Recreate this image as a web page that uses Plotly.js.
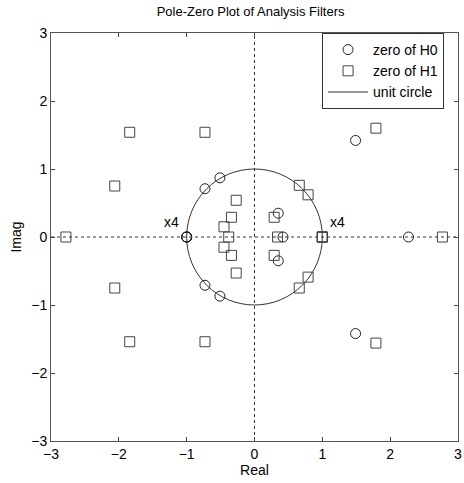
<!DOCTYPE html>
<html><head><meta charset="utf-8">
<script src="https://cdn.plot.ly/plotly-3.0.1.min.js"></script>
<style>body{margin:0;background:#fff}#c{width:464px;height:483px}</style>
</head><body><div id="c"></div>
<script>
// zeros of H0 (circles)
const h0Re = [-1, -1, -1, -1, -0.73, -0.73, -0.51, -0.51, 0.35, 0.35, 0.42, 2.27, 1.49, 1.49];
const h0Im = [0, 0, 0, 0, 0.71, -0.71, 0.87, -0.87, 0.35, -0.35, 0, 0, 1.42, -1.42];
// zeros of H1 (squares)
const h1Re = [-2.78, -1.84, -0.73, -2.06, -2.06, -1.84, -0.73,
              -0.27, -0.34, -0.45, -0.38, -0.45, -0.34, -0.27,
              0.29, 0.34, 0.29, 0.66, 0.79, 0.66, 0.79,
              1, 1, 1, 1, 2.77, 1.79, 1.79];
const h1Im = [0, 1.54, 1.54, 0.75, -0.75, -1.54, -1.54,
              0.54, 0.29, 0.15, 0, -0.15, -0.27, -0.53,
              0.29, 0, -0.27, 0.76, 0.62, -0.75, -0.59,
              0, 0, 0, 0, 0, 1.6, -1.56];
const tickVals = [-3, -2, -1, 0, 1, 2, 3];
const axisRange = [-3, 3];
const unitRadius = 1;
const multLabels = [{x: -1.23, y: 0.22, t: 'x4'}, {x: 1.23, y: 0.22, t: 'x4'}];

const font = {family: 'Liberation Sans, Arial, sans-serif', size: 14, color: '#000'};
const traces = [
  {x: h0Re, y: h0Im, mode: 'markers', type: 'scatter', name: 'zero of H0',
   marker: {symbol: 'circle-open', size: 10, color: '#222', line: {width: 1, color: '#222'}}},
  {x: h1Re, y: h1Im, mode: 'markers', type: 'scatter', name: 'zero of H1',
   marker: {symbol: 'square-open', size: 10, color: '#444', line: {width: 1, color: '#444'}}},
  {x: [null], y: [null], mode: 'lines', type: 'scatter', name: 'unit circle',
   line: {color: '#333', width: 1}}
];
const axBase = {range: axisRange, tickvals: tickVals, ticks: 'inside', ticklen: 4,
  tickcolor: '#444', showline: true, linecolor: '#555', linewidth: 1, mirror: 'ticks',
  showgrid: false, zeroline: false, tickfont: font};
const layout = {
  width: 464, height: 483,
  margin: {l: 51, r: 6, t: 33, b: 42},
  paper_bgcolor: '#fff', plot_bgcolor: '#fff',
  font: font,
  title: {text: 'Pole-Zero Plot of Analysis Filters', font: {family: font.family, size: 13, color: '#000'},
          x: 0.54, xanchor: 'center', y: 0.985, yanchor: 'top'},
  xaxis: Object.assign({}, axBase, {title: {text: 'Real', font: font, standoff: 4}}),
  yaxis: Object.assign({}, axBase, {title: {text: 'Imag', font: font, standoff: 6}}),
  showlegend: true,
  legend: {x: 0.666, y: 1, xanchor: 'left', yanchor: 'top', bordercolor: '#333', borderwidth: 1,
           bgcolor: '#fff', font: font, tracegroupgap: 0, itemwidth: 40},
  shapes: [
    {type: 'line', xref: 'x', yref: 'y', x0: axisRange[0], x1: axisRange[1], y0: 0, y1: 0,
     line: {color: '#333', width: 1, dash: 'dot'}, layer: 'below'},
    {type: 'line', xref: 'x', yref: 'y', x0: 0, x1: 0, y0: axisRange[0], y1: axisRange[1],
     line: {color: '#333', width: 1, dash: 'dot'}, layer: 'below'},
    {type: 'circle', xref: 'x', yref: 'y', x0: -unitRadius, x1: unitRadius, y0: -unitRadius, y1: unitRadius,
     line: {color: '#333', width: 1}, layer: 'below'}
  ],
  annotations: multLabels.map(a => ({x: a.x, y: a.y, text: a.t, showarrow: false, font: font}))
};
Plotly.newPlot('c', traces, layout, {displayModeBar: false, staticPlot: true});
</script></body></html>
